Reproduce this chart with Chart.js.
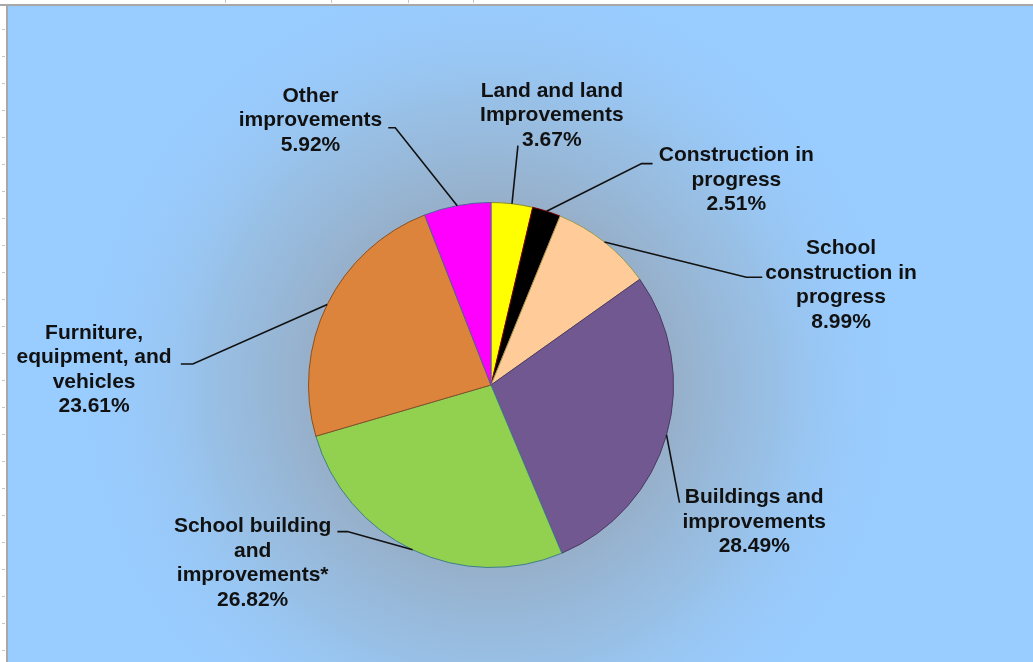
<!DOCTYPE html>
<html>
<head>
<meta charset="utf-8">
<script src="https://cdn.jsdelivr.net/npm/chart.js@4/dist/chart.umd.min.js"></script>
<style>
  html, body { margin: 0; padding: 0; background: #ffffff; }
  #wrap { width: 1033px; height: 662px; position: relative; }
</style>
</head>
<body>
<div id="wrap"><canvas id="myChart"></canvas></div>
<script>
// data (clockwise from 12 o'clock)
var categories = ['Land and land Improvements', 'Construction in progress', 'School construction in progress',
  'Buildings and improvements', 'School building and improvements*', 'Furniture, equipment, and vehicles',
  'Other improvements'];
var shares = [3.67, 2.51, 8.99, 28.49, 26.82, 23.61, 5.92];
var labelLines = [
  ['Land and land', 'Improvements'],
  ['Construction in', 'progress'],
  ['School', 'construction in', 'progress'],
  ['Buildings and', 'improvements'],
  ['School building', 'and', 'improvements*'],
  ['Furniture,', 'equipment, and', 'vehicles'],
  ['Other', 'improvements']
];
var sliceColors = ['#FFFF00', '#000000', '#FFCC99', '#725890', '#92D050', '#DC843C', '#FF00FF'];
var sliceBorders = ['#8a8a30', '#800000', '#9a9a50', '#4e3a66', '#3f7f8f', '#8a5020', '#5a5aa0'];

// label layout, relative to pie centre (px at radius 183): text centre + first line, then leader points
var labelLayout = [
  {t: [61, -295],  lead: [[27, -240]]},
  {t: [246, -230], lead: [[162, -222], [151, -222]]},
  {t: [351, -137], lead: [[272, -108], [256, -108]]},
  {t: [264, 113],  lead: [[189, 118]]},
  {t: [-239, 142], lead: [[-154, 147], [-144, 147]]},
  {t: [-398, -52], lead: [[-311, -21], [-299, -21]]},
  {t: [-181, -290], lead: [[-103, -258], [-96, -258]]}
];

var backdrop = {
  id: 'backdrop',
  beforeDraw: function(chart) {
    var c = chart.ctx, W = chart.width, H = chart.height;
    c.save();
    c.fillStyle = '#ffffff';
    c.fillRect(0, 0, W, H);
    // sheet tick marks
    c.fillStyle = '#c8c8c8';
    [225, 331, 408, 473].forEach(function(x) { c.fillRect(x, 0, 1, 3); });
    for (var y = 29; y < H; y += 27) c.fillRect(2, y, 3, 1);
    // plot background
    c.fillStyle = '#99CCFF';
    c.fillRect(8, 6, W - 8, H - 6);
    var arc = chart.getDatasetMeta(0).data[0];
    if (arc) {
      var g = c.createRadialGradient(arc.x, arc.y, arc.outerRadius * 0.9, arc.x, arc.y, arc.outerRadius * 2.3);
      g.addColorStop(0, 'rgba(150,172,196,1)');
      g.addColorStop(0.45, 'rgba(152,188,222,0.8)');
      g.addColorStop(1, 'rgba(153,204,255,0)');
      c.fillStyle = g;
      c.fillRect(8, 6, W - 8, H - 6);
    }
    // frame
    c.fillStyle = '#a8a8a8';
    c.fillRect(0, 4, W, 2);
    c.fillRect(6, 4, 2, H);
    c.restore();
  }
};

var labelsPlugin = {
  id: 'sliceLabels',
  afterDraw: function(chart) {
    var c = chart.ctx;
    var meta = chart.getDatasetMeta(0);
    c.save();
    c.font = 'bold 21px "Liberation Sans", Arial, sans-serif';
    c.textAlign = 'center';
    c.textBaseline = 'middle';
    meta.data.forEach(function(arc, i) {
      var k = arc.outerRadius / 183;
      var mid = (arc.startAngle + arc.endAngle) / 2;
      var ax = arc.x + Math.cos(mid) * arc.outerRadius;
      var ay = arc.y + Math.sin(mid) * arc.outerRadius;
      var lay = labelLayout[i];
      c.strokeStyle = '#111111';
      c.lineWidth = 1.6;
      c.beginPath();
      lay.lead.forEach(function(p, j) {
        var px = arc.x + p[0] * k, py = arc.y + p[1] * k;
        if (j === 0) c.moveTo(px, py); else c.lineTo(px, py);
      });
      c.lineTo(ax, ay);
      c.stroke();
      var lines = labelLines[i].concat([shares[i].toFixed(2) + '%']);
      c.fillStyle = '#111111';
      lines.forEach(function(s, j) {
        c.fillText(s, arc.x + lay.t[0] * k, arc.y + lay.t[1] * k + j * 24.5);
      });
    });
    c.restore();
  }
};

const ctx = document.getElementById('myChart');
new Chart(ctx, {
  type: 'pie',
  data: {
    labels: categories,
    datasets: [{
      data: shares,
      backgroundColor: sliceColors,
      borderColor: sliceBorders,
      borderWidth: 1
    }]
  },
  options: {
    responsive: true,
    maintainAspectRatio: false,
    animation: false,
    layout: { padding: { left: 308, right: 359, top: 202, bottom: 94 } },
    plugins: {
      legend: { display: false },
      tooltip: { enabled: false }
    }
  },
  plugins: [backdrop, labelsPlugin]
});
</script>
</body>
</html>
